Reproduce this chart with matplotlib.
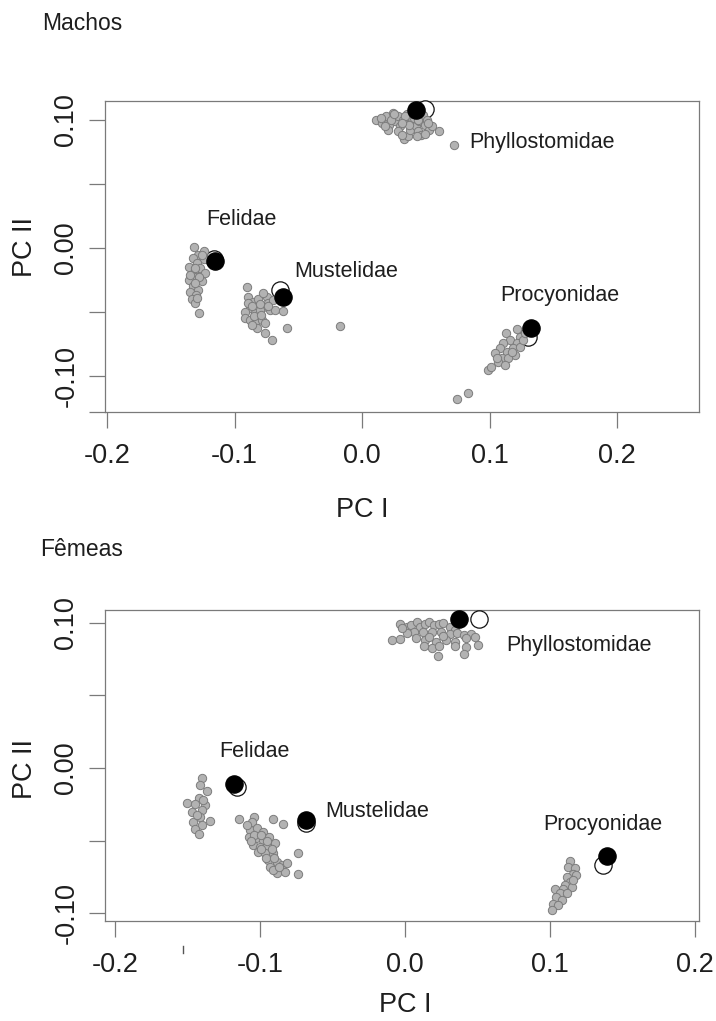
import matplotlib
matplotlib.use("Agg")
import matplotlib.pyplot as plt
from matplotlib.lines import Line2D

plt.rcParams["font.family"] = ["Liberation Sans", "DejaVu Sans"]

# ---------------- Machos (males) ----------------
m_phyl_x = [0.0111, 0.0154, 0.0189, 0.0214, 0.0200, 0.0243, 0.0261, 0.0279, 0.0296, 0.0321,
            0.0332, 0.0357, 0.0350, 0.0379, 0.0386, 0.0404, 0.0421, 0.0439, 0.0450, 0.0464,
            0.0475, 0.0493, 0.0511, 0.0529, 0.0546, 0.0600, 0.0279, 0.0230, 0.0250, 0.0370,
            0.0310, 0.0430, 0.0490, 0.0180, 0.0150, 0.0340, 0.0400, 0.0310, 0.0440, 0.0520,
            0.0718]
m_phyl_y = [0.1000, 0.0977, 0.1029, 0.0963, 0.0919, 0.1055, 0.0990, 0.1029, 0.0950, 0.1003,
            0.0851, 0.0872, 0.1050, 0.0924, 0.0977, 0.1016, 0.0950, 0.0911, 0.0990, 0.0885,
            0.1042, 0.0963, 0.1003, 0.0924, 0.0950, 0.0911, 0.0911, 0.1003, 0.1050, 0.0963,
            0.0885, 0.0877, 0.0893, 0.0950, 0.1016, 0.1029, 0.1050, 0.0977, 0.1003, 0.0977,
            0.0802]

m_feli_x = [-0.1318, -0.1236, -0.1286, -0.1329, -0.1239, -0.1293, -0.1354, -0.1268, -0.1321,
            -0.1232, -0.1300, -0.1357, -0.1257, -0.1329, -0.1286, -0.1350, -0.1300, -0.1336,
            -0.1307, -0.1282, -0.1257, -0.1311, -0.1346, -0.1275, -0.1314, -0.1293]
m_feli_y = [0.0012, -0.0020, -0.0053, -0.0080, -0.0087, -0.0119, -0.0150, -0.0158, -0.0192,
            -0.0197, -0.0228, -0.0249, -0.0254, -0.0296, -0.0327, -0.0340, -0.0366, -0.0400,
            -0.0432, -0.0505, -0.0053, -0.0158, -0.0210, -0.0223, -0.0270, -0.0392]

m_must_x = [-0.0904, -0.0892, -0.0853, -0.0813, -0.0747, -0.0735, -0.0774, -0.0878, -0.0918,
            -0.0839, -0.0800, -0.0722, -0.0918, -0.0878, -0.0831, -0.0787, -0.0761, -0.0826,
            -0.0761, -0.0708, -0.0682, -0.0617, -0.0591, -0.0696, -0.0774, -0.0892, -0.0173,
            -0.0860, -0.0800, -0.0850, -0.0795, -0.0740, -0.0865]
m_must_y = [-0.0307, -0.0385, -0.0420, -0.0401, -0.0380, -0.0432, -0.0459, -0.0471, -0.0498,
            -0.0510, -0.0484, -0.0484, -0.0549, -0.0563, -0.0568, -0.0563, -0.0588, -0.0627,
            -0.0662, -0.0719, -0.0484, -0.0490, -0.0623, -0.0406, -0.0354, -0.0432, -0.0609,
            -0.0455, -0.0440, -0.0530, -0.0525, -0.0455, -0.0600]

m_proc_x = [0.1213, 0.1129, 0.1239, 0.1161, 0.1108, 0.1213, 0.1187, 0.1239, 0.1082, 0.1135,
            0.1043, 0.1200, 0.1095, 0.1147, 0.1069, 0.1122, 0.1174, 0.1265, 0.1278, 0.1056,
            0.0991, 0.1009, 0.0834, 0.0747]
m_proc_y = [-0.0635, -0.0662, -0.0693, -0.0719, -0.0745, -0.0745, -0.0784, -0.0771, -0.0784,
            -0.0810, -0.0823, -0.0836, -0.0862, -0.0862, -0.0888, -0.0914, -0.0810, -0.0719,
            -0.0667, -0.0862, -0.0953, -0.0932, -0.1135, -0.1182]

# family means: Phyllostomidae, Felidae, Mustelidae, Procyonidae
m_mean_solid_x = [0.0422, -0.1157, -0.0618, 0.1323]
m_mean_solid_y = [0.1077, -0.0098, -0.0384, -0.0623]
m_mean_open_x = [0.0494, -0.1163, -0.0643, 0.1304]
m_mean_open_y = [0.1089, -0.0086, -0.0328, -0.0693]

# ---------------- Fêmeas (females) ----------------
f_phyl_x = [-0.0088, -0.0035, -0.0032, 0.0013, 0.0044, 0.0082, 0.0107, 0.0139, 0.0170, 0.0202,
            0.0233, 0.0265, 0.0312, 0.0344, 0.0060, 0.0123, 0.0186, 0.0249, 0.0312, 0.0360,
            0.0407, 0.0454, 0.0486, 0.0076, 0.0139, 0.0218, 0.0281, 0.0344, 0.0423, 0.0502,
            0.0133, 0.0186, 0.0233, 0.0344, 0.0423, 0.0227, 0.0407, 0.0013, -0.0019, 0.0170,
            0.0265]
f_phyl_y = [0.0881, 0.0885, 0.0991, 0.0972, 0.0984, 0.1007, 0.0972, 0.0991, 0.1007, 0.0984,
            0.0995, 0.1000, 0.0972, 0.0950, 0.0938, 0.0938, 0.0938, 0.0938, 0.0922, 0.0927,
            0.0915, 0.0922, 0.0904, 0.0892, 0.0881, 0.0869, 0.0881, 0.0869, 0.0892, 0.0846,
            0.0839, 0.0823, 0.0839, 0.0839, 0.0830, 0.0771, 0.0784, 0.0927, 0.0961, 0.0904,
            0.0908]

f_feli_x = [-0.1402, -0.1413, -0.1363, -0.1418, -0.1505, -0.1448, -0.1379, -0.1402, -0.1471,
            -0.1413, -0.1344, -0.1460, -0.1402, -0.1448, -0.1418, -0.1436, -0.1391]
f_feli_y = [-0.0071, -0.0117, -0.0156, -0.0209, -0.0243, -0.0248, -0.0254, -0.0289, -0.0301,
            -0.0335, -0.0363, -0.0370, -0.0392, -0.0422, -0.0456, -0.0323, -0.0220]

f_must_x = [-0.1142, -0.1041, -0.1057, -0.0908, -0.0843, -0.1068, -0.1022, -0.0977, -0.1073,
            -0.1027, -0.0981, -0.0935, -0.1046, -0.1000, -0.0953, -0.0896, -0.1011, -0.0965,
            -0.0908, -0.0942, -0.0884, -0.0930, -0.0850, -0.0815, -0.0884, -0.0827, -0.0735,
            -0.0739, -0.1091, -0.1040, -0.0990, -0.0960, -0.0910, -0.1060, -0.0990, -0.0950,
            -0.0900, -0.0870, -0.0920]
f_must_y = [-0.0353, -0.0335, -0.0370, -0.0351, -0.0385, -0.0427, -0.0415, -0.0438, -0.0473,
            -0.0484, -0.0496, -0.0473, -0.0530, -0.0542, -0.0537, -0.0518, -0.0576, -0.0587,
            -0.0587, -0.0633, -0.0645, -0.0679, -0.0668, -0.0656, -0.0721, -0.0714, -0.0583,
            -0.0730, -0.0392, -0.0460, -0.0560, -0.0620, -0.0700, -0.0500, -0.0460, -0.0500,
            -0.0620, -0.0680, -0.0560]

f_proc_x = [0.1140, 0.1128, 0.1175, 0.1159, 0.1181, 0.1121, 0.1140, 0.1106, 0.1152, 0.1094,
            0.1037, 0.1071, 0.1121, 0.1044, 0.1083, 0.1025, 0.1060, 0.1014, 0.1163]
f_proc_y = [-0.0638, -0.0679, -0.0690, -0.0730, -0.0736, -0.0748, -0.0783, -0.0805, -0.0817,
            -0.0835, -0.0835, -0.0862, -0.0862, -0.0886, -0.0908, -0.0936, -0.0943, -0.0977,
            -0.0771]

f_mean_solid_x = [0.0375, -0.1182, -0.0680, 0.1393]
f_mean_solid_y = [0.1023, -0.0111, -0.0358, -0.0606]
f_mean_open_x = [0.0515, -0.1156, -0.0680, 0.1366]
f_mean_open_y = [0.1023, -0.0129, -0.0381, -0.0668]

families = ["Phyllostomidae", "Felidae", "Mustelidae", "Procyonidae"]
x_ticks = [-0.2, -0.1, 0.0, 0.1, 0.2]
x_tick_labels = ["-0.2", "-0.1", "0.0", "0.1", "0.2"]
y_ticks = [-0.10, -0.05, 0.00, 0.05, 0.10]
y_tick_labels = ["-0.10", "", "0.00", "", "0.10"]

# ---------------- figure ----------------
W, H = 716, 1021
fig = plt.figure(figsize=(W / 100, H / 100), dpi=100)
TXT = "#1e1e1e"
AX_COL = "#7a7a7a"


def fx(px):
    return px / W


def fy(py):
    return 1 - py / H


def panel(rect, xlim, ylim, groups, solid, opened, label_pos, extra_yticks=()):
    ax = fig.add_axes(rect)
    ax.set_xlim(*xlim)
    ax.set_ylim(*ylim)
    for s in ax.spines.values():
        s.set_color(AX_COL)
        s.set_linewidth(0.9)
    ax.set_xticks(x_ticks)
    ax.set_xticklabels(x_tick_labels)
    ax.set_yticks(y_ticks + list(extra_yticks))
    ax.set_yticklabels(y_tick_labels + [""] * len(extra_yticks), rotation=90, va="center")
    ax.tick_params(axis="both", direction="out", length=11.5, width=0.9,
                   color=AX_COL, labelcolor=TXT, labelsize=19.5)
    ax.tick_params(axis="x", pad=11)
    ax.tick_params(axis="y", pad=7)

    # open markers for the second mean, then specimens, then the solid mean
    ax.scatter(opened[0], opened[1], s=155, facecolor="white", edgecolor="#111111",
               linewidth=0.9, zorder=3, clip_on=False)
    for gx, gy in groups:
        ax.scatter(gx, gy, s=36, facecolor="#b2b2b2", edgecolor="#7c7c7c",
                   linewidth=0.7, zorder=4, clip_on=False)
    ax.scatter(solid[0], solid[1], s=155, facecolor="black", edgecolor="black",
               linewidth=0.9, zorder=5, clip_on=False)

    for name, (tx, ty) in zip(families, label_pos):
        ax.text(tx, ty, name, ha="center", va="baseline", fontsize=15.5, color=TXT)
    return ax


# Machos
ax1 = panel([fx(105), fy(412), fx(699) - fx(105), fy(101) - fy(412)],
            (-0.2016, 0.2643), (-0.128, 0.1148),
            [(m_phyl_x, m_phyl_y), (m_feli_x, m_feli_y), (m_must_x, m_must_y), (m_proc_x, m_proc_y)],
            (m_mean_solid_x, m_mean_solid_y), (m_mean_open_x, m_mean_open_y),
            [(0.1412, 0.0781), (-0.0949, 0.0180), (-0.0125, -0.0227), (0.1553, -0.0414)],
            extra_yticks=(-0.128,))

# Fêmeas
ax2 = panel([fx(105), fy(921), fx(699) - fx(105), fy(610) - fy(921)],
            (-0.2069, 0.2030), (-0.1053, 0.1088),
            [(f_phyl_x, f_phyl_y), (f_feli_x, f_feli_y), (f_must_x, f_must_y), (f_proc_x, f_proc_y)],
            (f_mean_solid_x, f_mean_solid_y), (f_mean_open_x, f_mean_open_y),
            [(0.1202, 0.0805), (-0.1041, 0.0076), (-0.0192, -0.0337), (0.1368, -0.0427)])

# panel titles and axis names
fig.text(fx(42), fy(23), "Machos", ha="left", va="center", fontsize=16.5, color=TXT)
fig.text(fx(40), fy(549), "Fêmeas", ha="left", va="center", fontsize=16.5, color=TXT)
fig.text(fx(362), fy(510), "PC I", ha="center", va="center", fontsize=19.5, color=TXT)
fig.text(fx(405), fy(1005), "PC I", ha="center", va="center", fontsize=19.5, color=TXT)
fig.text(fx(25), fy(247), "PC II", ha="center", va="center", rotation=90,
         fontsize=19.5, color=TXT)
fig.text(fx(25), fy(769), "PC II", ha="center", va="center", rotation=90,
         fontsize=19.5, color=TXT)

# small stray stroke below the lower panel
fig.add_artist(Line2D([fx(183), fx(183)], [fy(946), fy(953)], color="#555555", lw=1.0))

fig.savefig("out.png", dpi=100, facecolor="white")
